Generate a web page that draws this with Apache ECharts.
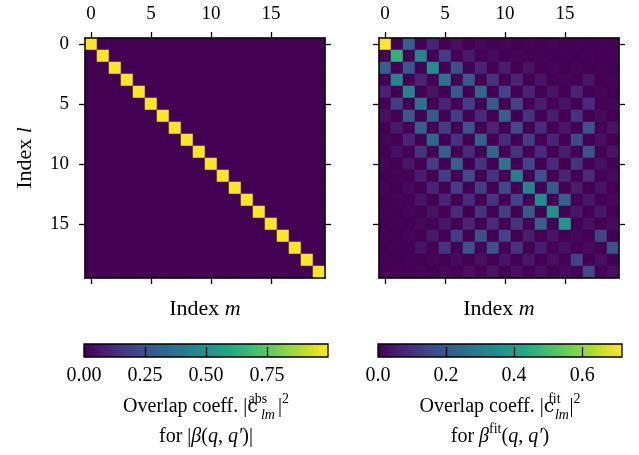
<!DOCTYPE html>
<html>
<head>
<meta charset="utf-8">
<script src="https://cdn.jsdelivr.net/npm/echarts@6/dist/echarts.min.js"></script>
<style>
html,body{margin:0;padding:0;background:#fff;}
#chart{width:639px;height:455px;}
</style>
</head>
<body>
<div id="chart"></div>
<script>
// ---------- DATA ----------
const indexCats = ["0","1","2","3","4","5","6","7","8","9","10","11","12","13","14","15","16","17","18","19"];
// left panel: |c^abs_lm|^2 (identity-like overlap)
const absDiagonal = [1,1,1,1,1,1,1,1,1,1,1,1,1,1,1,1,1,1,1,1];
const absOffDiagonal = 0;
// right panel: |c^fit_lm|^2, rows = l, columns = m
const fitRows = [
  [0.717,0,0.215,0,0.072,0,0.029,0,0.014,0,0.010,0,0.007,0,0.007,0,0.005,0,0.005,0],
  [0,0.460,0,0.323,0,0.129,0,0.050,0,0.022,0,0.010,0,0.007,0,0.005,0,0.005,0,0.005],
  [0.215,0,0.190,0,0.344,0,0.179,0,0.072,0,0.057,0,0.036,0,0.010,0,0.007,0,0.005,0],
  [0,0.323,0,0.072,0,0.272,0,0.201,0,0.108,0,0.072,0,0.036,0,0.010,0,0.043,0,0.007],
  [0.072,0,0.323,0,0.036,0,0.201,0,0.230,0,0.143,0,0.072,0,0.036,0,0.072,0,0.010,0],
  [0,0.129,0,0.272,0,0.072,0,0.129,0,0.201,0,0.143,0,0.057,0,0.036,0,0.086,0,0.010],
  [0.029,0,0.201,0,0.201,0,0.129,0,0.086,0,0.215,0,0.108,0,0.057,0,0.108,0,0.022,0],
  [0,0.050,0,0.215,0,0.129,0,0.179,0,0.072,0,0.158,0,0.086,0,0.043,0,0.179,0,0.036],
  [0.010,0,0.072,0,0.237,0,0.108,0,0.215,0,0.086,0,0.129,0,0.072,0,0.158,0,0.029,0],
  [0,0.029,0,0.108,0,0.215,0,0.086,0,0.237,0,0.108,0,0.086,0,0.057,0,0.179,0,0.036],
  [0.007,0,0.043,0,0.129,0,0.215,0,0.108,0,0.272,0,0.143,0,0.086,0,0.108,0,0.029,0],
  [0,0.007,0,0.057,0,0.129,0,0.158,0,0.108,0,0.301,0,0.179,0,0.072,0,0.086,0,0.022],
  [0.007,0,0.022,0,0.072,0,0.129,0,0.129,0,0.158,0,0.323,0,0.201,0,0.057,0,0.036,0],
  [0,0.007,0,0.036,0,0.072,0,0.086,0,0.108,0,0.143,0,0.344,0,0.215,0,0.043,0,0.014],
  [0.005,0,0.010,0,0.036,0,0.086,0,0.108,0,0.129,0,0.201,0,0.365,0,0.043,0,0.043,0],
  [0,0.005,0,0.014,0,0.043,0,0.072,0,0.086,0,0.108,0,0.215,0,0.380,0,0.029,0,0.022],
  [0.005,0,0.010,0,0.050,0,0.129,0,0.179,0,0.143,0,0.057,0,0.036,0,0.014,0,0.143,0],
  [0,0.005,0,0.036,0,0.108,0,0.179,0,0.179,0,0.108,0,0.057,0,0.029,0,0.022,0,0.179],
  [0.005,0,0.005,0,0.010,0,0.022,0,0.029,0,0.036,0,0.043,0,0.029,0,0.143,0,0.029,0],
  [0,0.005,0,0.007,0,0.014,0,0.029,0,0.036,0,0.029,0,0.029,0,0.022,0,0.158,0,0.029]
];
const absRange = [0, 1];
const fitRange = [0, 0.717];
const absTickStep = 0.25;
const fitTickStep = 0.2;

// ---------- STYLE ----------
const FONT = "'Liberation Serif', 'DejaVu Serif', serif";
const TICK_FS = 19;
const LABEL_FS = 22;
const CB_FS = 20;
const viridis = ['#440154','#482475','#414487','#355f8d','#2a788e','#21918c','#22a884','#44bf70','#7ad151','#bddf26','#fde725'];
const gradient = {
  type: 'linear', x: 0, y: 0, x2: 1, y2: 0,
  colorStops: viridis.map((c, i) => ({offset: i / (viridis.length - 1), color: c}))
};

// ---------- BUILD ----------
const absData = [];
const fitData = [];
for (let l = 0; l < indexCats.length; l++) {
  for (let m = 0; m < indexCats.length; m++) {
    absData.push([m, l, l === m ? absDiagonal[l] : absOffDiagonal]);
    fitData.push([m, l, fitRows[l][m]]);
  }
}

const every5 = (i) => i % 5 === 0;
const lineCol = '#000';
function catAxis(grid, pos, showLabel, extra) {
  const vertical = (pos === 'left' || pos === 'right');
  return Object.assign({
    type: 'category', gridIndex: grid, data: indexCats, position: pos, z: 10,
    boundaryGap: true,
    inverse: vertical,
    axisLine: {show: true, lineStyle: {color: lineCol, width: 1.5}},
    axisTick: {show: true, alignWithLabel: true, interval: every5, length: 6, lineStyle: {color: lineCol, width: 1.3}},
    axisLabel: {show: showLabel, interval: every5, color: '#000', fontFamily: FONT, fontSize: TICK_FS, margin: vertical ? 16 : 14},
    splitLine: {show: false}
  }, extra || {});
}
const nameStyle = {
  color: '#000', fontFamily: FONT, fontSize: LABEL_FS,
  rich: {
    t: {fontFamily: FONT, fontSize: LABEL_FS, color: '#000'},
    i: {fontFamily: FONT, fontSize: LABEL_FS, fontStyle: 'italic', color: '#000'}
  }
};
function cbRich(subWidth) {
  return {
    t: {fontFamily: FONT, fontSize: CB_FS, color: '#000', lineHeight: 30},
    i: {fontFamily: FONT, fontSize: CB_FS, fontStyle: 'italic', color: '#000', lineHeight: 30},
    f: {fontFamily: "'DejaVu Serif', serif", fontSize: 19, color: '#000', lineHeight: 30},
    sup: {fontFamily: FONT, fontSize: 14, color: '#000', lineHeight: 16, verticalAlign: 'top', width: 0},
    sub: {fontFamily: FONT, fontSize: 14, fontStyle: 'italic', color: '#000', lineHeight: 16, verticalAlign: 'bottom', width: subWidth},
    sup2: {fontFamily: FONT, fontSize: 14, color: '#000', lineHeight: 16, verticalAlign: 'top'}
  };
}
function cbAxis(grid, range, step, digits, name, subWidth) {
  return {
    type: 'value', gridIndex: grid, position: 'bottom', min: range[0], max: range[1], interval: step, z: 10,
    axisLine: {show: false},
    axisTick: {show: true, inside: true, length: 10, lineStyle: {color: lineCol, width: 1.3}},
    axisLabel: {
      color: '#000', fontFamily: FONT, fontSize: CB_FS, margin: 9, showMaxLabel: false,
      formatter: (v) => {
        const k = v / step;
        return (Math.abs(k - Math.round(k)) < 1e-6 && v < range[1] - 1e-9) ? v.toFixed(digits) : '';
      }
    },
    splitLine: {show: false},
    name: name, nameLocation: 'middle', nameGap: 35,
    nameTextStyle: {color: '#000', fontFamily: FONT, fontSize: CB_FS, lineHeight: 30, rich: cbRich(subWidth)}
  };
}

const option = {
  backgroundColor: '#fff',
  animation: false,
  grid: [
    {left: 85, top: 38, width: 240, height: 240, show: false},
    {left: 379, top: 38, width: 240, height: 240, show: false},
    {left: 84, top: 344, width: 244, height: 13, show: true, backgroundColor: gradient, borderColor: '#000', borderWidth: 1.3},
    {left: 378, top: 344, width: 244, height: 13, show: true, backgroundColor: gradient, borderColor: '#000', borderWidth: 1.3}
  ],
  xAxis: [
    catAxis(0, 'top', true),
    catAxis(0, 'bottom', false, {name: '{t|Index }{i|m}', nameLocation: 'middle', nameGap: 20, nameTextStyle: nameStyle}),
    catAxis(1, 'top', true),
    catAxis(1, 'bottom', false, {name: '{t|Index }{i|m}', nameLocation: 'middle', nameGap: 20, nameTextStyle: nameStyle}),
    cbAxis(2, absRange, absTickStep, 2,
      '{t|Overlap coeff. |}{f|c}{sup|abs}{sub|lm}{t||}{sup2|2}\n{t|for |}{i|β}{t|(}{i|q}{t|, }{i|q′}{t|)|}', 20),
    cbAxis(3, fitRange, fitTickStep, 1,
      '{t|Overlap coeff. |}{f|c}{sup|fit}{sub|lm}{t||}{sup2|2}\n{t|for }{i|β}{sup2|fit}{t|(}{i|q}{t|, }{i|q′}{t|)}', 15)
  ],
  yAxis: [
    catAxis(0, 'left', true, {name: '{t|Index }{i|l}', nameLocation: 'middle', nameGap: 49, nameTextStyle: nameStyle}),
    catAxis(0, 'right', false),
    catAxis(1, 'left', false),
    catAxis(1, 'right', false),
    {type: 'value', gridIndex: 2, show: false, min: 0, max: 1},
    {type: 'value', gridIndex: 3, show: false, min: 0, max: 1}
  ],
  visualMap: [
    {show: false, type: 'continuous', seriesIndex: 0, min: absRange[0], max: absRange[1], inRange: {color: viridis}},
    {show: false, type: 'continuous', seriesIndex: 1, min: fitRange[0], max: fitRange[1], inRange: {color: viridis}}
  ],
  series: [
    {type: 'heatmap', xAxisIndex: 0, yAxisIndex: 0, data: absData, itemStyle: {borderWidth: 0}, emphasis: {disabled: true}},
    {type: 'heatmap', xAxisIndex: 2, yAxisIndex: 2, data: fitData, itemStyle: {borderWidth: 0}, emphasis: {disabled: true}},
    {type: 'scatter', xAxisIndex: 4, yAxisIndex: 4, data: [], silent: true},
    {type: 'scatter', xAxisIndex: 5, yAxisIndex: 5, data: [], silent: true}
  ]
};
const chart = echarts.init(document.getElementById('chart'), null, {renderer: 'canvas'});
chart.setOption(option);
</script>
</body>
</html>
